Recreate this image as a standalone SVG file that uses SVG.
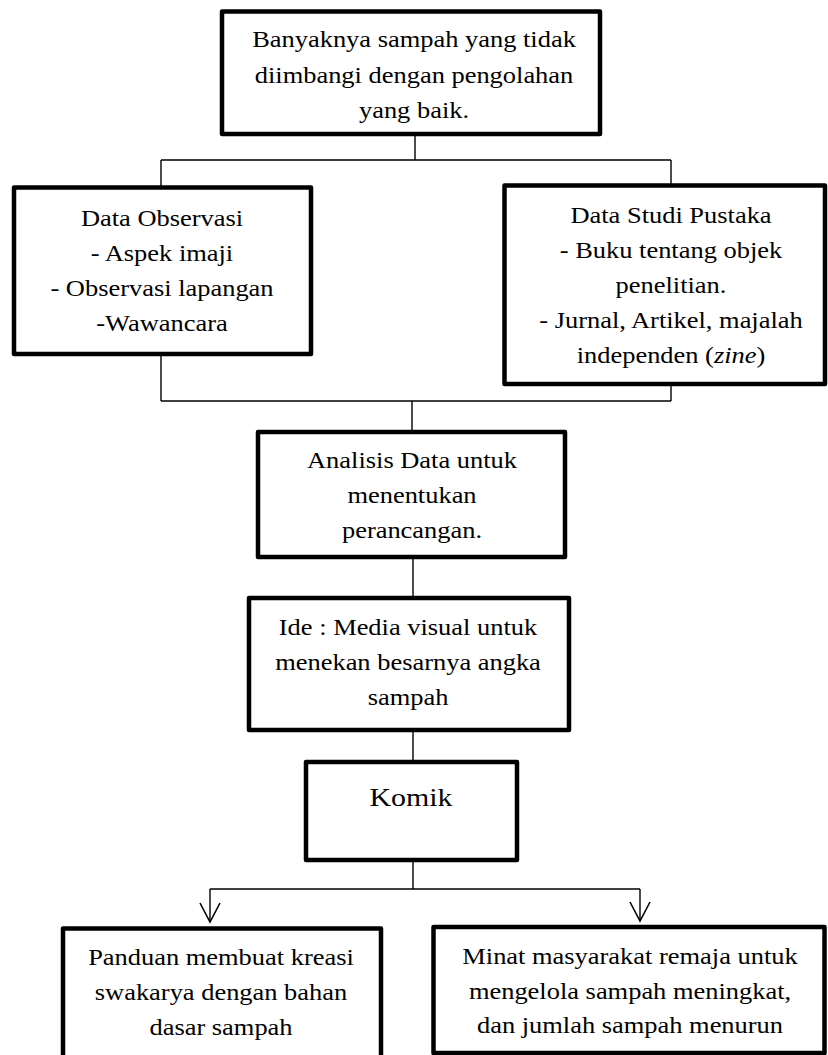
<svg xmlns="http://www.w3.org/2000/svg" width="828" height="1055" viewBox="0 0 828 1055">
<style>
.box{fill:#fff;stroke:#000;stroke-width:4.5;stroke-linejoin:round}
.ln{fill:none;stroke:#000;stroke-width:1.4}
.t{font-family:"Liberation Serif","Times New Roman",serif;font-size:23px;fill:#000;text-anchor:middle}
.big{font-size:26px}
</style>
<defs>
<marker id="arr" markerWidth="24" markerHeight="24" refX="20" refY="12" orient="auto" markerUnits="userSpaceOnUse" viewBox="0 0 24 24">
<path d="M1,2 L20,12 L1,22" fill="none" stroke="#000" stroke-width="1.6"/>
</marker>
</defs>
<rect width="828" height="1055" fill="#fff"/>
<g id="connectors">
<path class="ln" d="M415,134 V160 M161,160 H671 M161,160 V187 M671,160 V185"/>
<path class="ln" d="M161,354 V401 M671,384 V401 M161,401 H671 M412,401 V432"/>
<path class="ln" d="M413,557 V598 M413,730 V762 M413,860 V889 M210,889 H640"/>
<path class="ln" d="M210,889 V922" marker-end="url(#arr)"/>
<path class="ln" d="M640,889 V921" marker-end="url(#arr)"/>
</g>
<g id="n-masalah">
<rect class="box" x="222" y="11.5" width="378" height="122.5"/>
<g transform="translate(414 0) scale(1.15 1)">
<text class="t" x="0" y="47">Banyaknya sampah yang tidak</text>
<text class="t" x="0" y="83">diimbangi dengan pengolahan</text>
<text class="t" x="0" y="118">yang baik.</text>
</g>
</g>
<g id="n-observasi">
<rect class="box" x="14" y="187.5" width="297" height="166.5"/>
<g transform="translate(162 0) scale(1.15 1)">
<text class="t" x="0" y="226">Data Observasi</text>
<text class="t" x="0" y="261">- Aspek imaji</text>
<text class="t" x="0" y="296">- Observasi lapangan</text>
<text class="t" x="0" y="331">-Wawancara</text>
</g>
</g>
<g id="n-pustaka">
<rect class="box" x="504.5" y="185.5" width="320.5" height="198.5"/>
<g transform="translate(671 0) scale(1.15 1)">
<text class="t" x="0" y="223">Data Studi Pustaka</text>
<text class="t" x="0" y="258">- Buku tentang objek</text>
<text class="t" x="0" y="293">penelitian.</text>
<text class="t" x="0" y="328">- Jurnal, Artikel, majalah</text>
<text class="t" x="0" y="363">independen (<tspan font-style="italic">zine</tspan>)</text>
</g>
</g>
<g id="n-analisis">
<rect class="box" x="258" y="432" width="307" height="125"/>
<g transform="translate(412 0) scale(1.15 1)">
<text class="t" x="0" y="468">Analisis Data untuk</text>
<text class="t" x="0" y="503">menentukan</text>
<text class="t" x="0" y="538">perancangan.</text>
</g>
</g>
<g id="n-ide">
<rect class="box" x="249" y="598" width="320" height="132"/>
<g transform="translate(408 0) scale(1.15 1)">
<text class="t" x="0" y="635">Ide : Media visual untuk</text>
<text class="t" x="0" y="670">menekan besarnya angka</text>
<text class="t" x="0" y="705">sampah</text>
</g>
</g>
<g id="n-komik">
<rect class="box" x="306" y="762" width="211" height="98"/>
<g transform="translate(411 0) scale(1.15 1)">
<text class="t big" x="0" y="806">Komik</text>
</g>
</g>
<g id="n-panduan">
<rect class="box" x="63" y="928.5" width="318" height="130"/>
<g transform="translate(221 0) scale(1.15 1)">
<text class="t" x="0" y="965">Panduan membuat kreasi</text>
<text class="t" x="0" y="1000">swakarya dengan bahan</text>
<text class="t" x="0" y="1035">dasar sampah</text>
</g>
</g>
<g id="n-minat">
<rect class="box" x="433.5" y="927" width="391" height="126"/>
<g transform="translate(630 0) scale(1.15 1)">
<text class="t" x="0" y="964">Minat masyarakat remaja untuk</text>
<text class="t" x="0" y="999">mengelola sampah meningkat,</text>
<text class="t" x="0" y="1033">dan jumlah sampah menurun</text>
</g>
</g>
</svg>
